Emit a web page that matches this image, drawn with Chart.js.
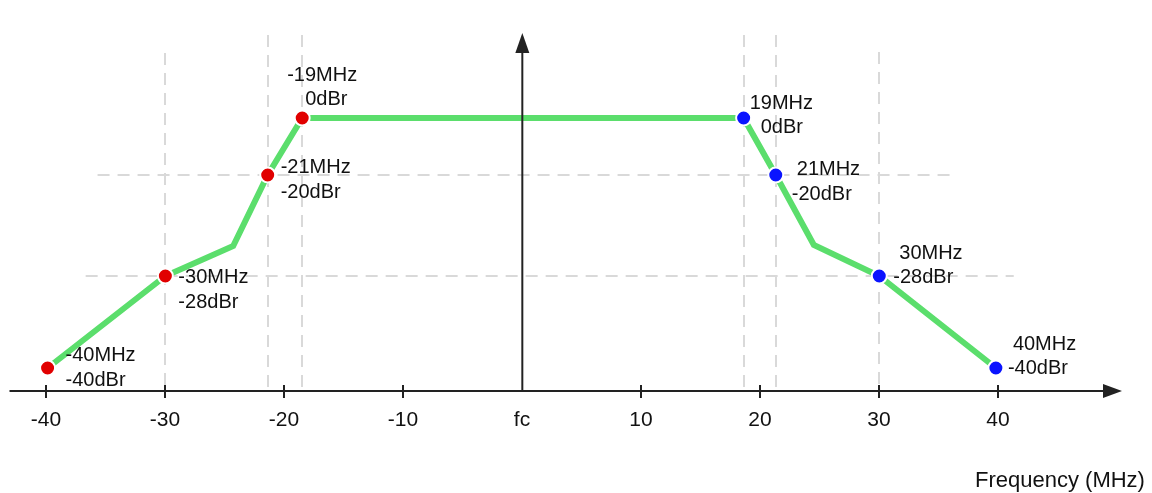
<!DOCTYPE html>
<html>
<head>
<meta charset="utf-8">
<script src="https://cdn.jsdelivr.net/npm/chart.js@4/dist/chart.umd.min.js"></script>
<style>
    html, body { margin: 0; padding: 0; background: #fff; }
    #wrap { width: 1152px; height: 493px; }
</style>
</head>
<body>
<div id="wrap"><canvas id="mask" width="1152" height="493"></canvas></div>
<script>
// spectrum mask. The drawing isn't to scale in dBr,
// so maskLevel is the height of each corner above the frequency axis as drawn.
const maskFreq = [-39.9, -30, -24.3, -21.4, -18.5, 18.6, 21.3, 24.5, 30, 39.8];
const maskLevel = [23, 115, 145, 216, 273, 273, 216, 146, 115, 23];

// labelled corners (index into the mask arrays)
const markerIndex = [0, 1, 3, 4, 5, 6, 8, 9];
const markerMHz = [-40, -30, -21, -19, 19, 21, 30, 40];
const markerDbr = [-40, -28, -20, 0, 0, -20, -28, -40];

const tickValues = [-40, -30, -20, -10, 0, 10, 20, 30, 40];
const tickLabels = ['-40', '-30', '-20', '-10', 'fc', '10', '20', '30', '40'];

// dashed guides
const guideFreq = [-30, -21.4, -18.5, 18.6, 21.3, 30];
const guideTop = [338, 356, 356, 356, 356, 339];
const guideLevel = [216, 115];
const guideSpan = [[-35.7, 36.0], [-36.7, 41.3]];

// text offsets from each marker, px: [x1, y1, x2, y2]
const labelOffsets = [
    [18, -13, 18, 12],
    [13, 1, 13, 26],
    [13, -8, 13, 17],
    [-15, -43, 3, -19],
    [6, -15, 17, 9],
    [21, -6, 16, 19],
    [20, -23, 14, 1],
    [17, -24, 12, 0],
];

const GREEN = '#5bde6c';
const INK = '#111';
const AXIS = '#222';

const maskPoints = maskFreq.map((x, i) => ({ x, y: maskLevel[i] }));
const markers = markerIndex.map((i) => ({ x: maskFreq[i], y: maskLevel[i] }));
const markerColors = markerMHz.map((f) => (f < 0 ? '#e10000' : '#0a14ff'));

const guides = {
    id: 'guides',
    beforeDatasetsDraw(chart) {
        const { ctx, scales: { x, y } } = chart;
        ctx.save();
        ctx.strokeStyle = '#d9d9d9';
        ctx.lineWidth = 2;
        ctx.setLineDash([12, 8]);
        guideFreq.forEach((f, i) => {
            const px = Math.round(x.getPixelForValue(f));
            ctx.beginPath();
            ctx.moveTo(px, y.getPixelForValue(guideTop[i]));
            ctx.lineTo(px, y.getPixelForValue(0));
            ctx.stroke();
        });
        guideLevel.forEach((lv, i) => {
            const py = Math.round(y.getPixelForValue(lv));
            ctx.beginPath();
            ctx.moveTo(x.getPixelForValue(guideSpan[i][0]), py);
            ctx.lineTo(x.getPixelForValue(guideSpan[i][1]), py);
            ctx.stroke();
        });
        ctx.restore();
    },
    afterDatasetsDraw(chart) {
        const { ctx, chartArea: area, scales: { x, y } } = chart;
        const x0 = x.getPixelForValue(0);
        const y0 = y.getPixelForValue(0);

        ctx.save();
        ctx.strokeStyle = AXIS;
        ctx.fillStyle = AXIS;
        ctx.lineWidth = 2;

        // frequency axis + arrow
        ctx.beginPath();
        ctx.moveTo(area.left, y0);
        ctx.lineTo(area.right - 14, y0);
        ctx.stroke();
        ctx.beginPath();
        ctx.moveTo(area.right, y0);
        ctx.lineTo(area.right - 19, y0 - 7);
        ctx.lineTo(area.right - 19, y0 + 7);
        ctx.closePath();
        ctx.fill();

        // level axis + arrow
        ctx.beginPath();
        ctx.moveTo(x0, y0);
        ctx.lineTo(x0, area.top + 14);
        ctx.stroke();
        ctx.beginPath();
        ctx.moveTo(x0, area.top);
        ctx.lineTo(x0 - 7, area.top + 20);
        ctx.lineTo(x0 + 7, area.top + 20);
        ctx.closePath();
        ctx.fill();

        // ticks and labels
        ctx.font = '21px "Liberation Sans", Arial, sans-serif';
        ctx.textAlign = 'center';
        ctx.textBaseline = 'middle';
        ctx.fillStyle = INK;
        tickValues.forEach((v, i) => {
            const px = Math.round(x.getPixelForValue(v));
            if (v !== 0) {
                ctx.beginPath();
                ctx.moveTo(px, y0 - 6);
                ctx.lineTo(px, y0 + 7);
                ctx.stroke();
            }
            ctx.fillText(tickLabels[i], px, y0 + 29);
        });

        ctx.font = '22px "Liberation Sans", Arial, sans-serif';
        ctx.textAlign = 'left';
        ctx.fillText('Frequency (MHz)', 975, 481);

        // corner annotations
        ctx.font = '20px "Liberation Sans", Arial, sans-serif';
        markers.forEach((m, i) => {
            const px = x.getPixelForValue(m.x);
            const py = y.getPixelForValue(m.y);
            const o = labelOffsets[i];
            ctx.fillText(markerMHz[i] + 'MHz', px + o[0], py + o[1]);
            ctx.fillText(markerDbr[i] + 'dBr', px + o[2], py + o[3]);
        });
        ctx.restore();
    },
};

new Chart(document.getElementById('mask'), {
    type: 'scatter',
    data: {
        datasets: [
            {
                data: maskPoints,
                showLine: true,
                borderColor: GREEN,
                borderWidth: 6,
                pointRadius: 0,
                tension: 0,
                order: 2,
            },
            {
                data: markers,
                showLine: false,
                pointRadius: 7.5,
                pointBorderWidth: 2,
                pointBorderColor: '#fff',
                pointBackgroundColor: markerColors,
                order: 1,
            },
        ],
    },
    options: {
        responsive: false,
        animation: false,
        layout: { padding: { left: 9, right: 30, top: 33, bottom: 102 } },
        plugins: { legend: { display: false }, tooltip: { enabled: false } },
        scales: {
            x: { type: 'linear', min: -43.1, max: 50.4, display: false },
            y: { type: 'linear', min: 0, max: 358, display: false },
        },
    },
    plugins: [guides],
});
</script>
</body>
</html>
